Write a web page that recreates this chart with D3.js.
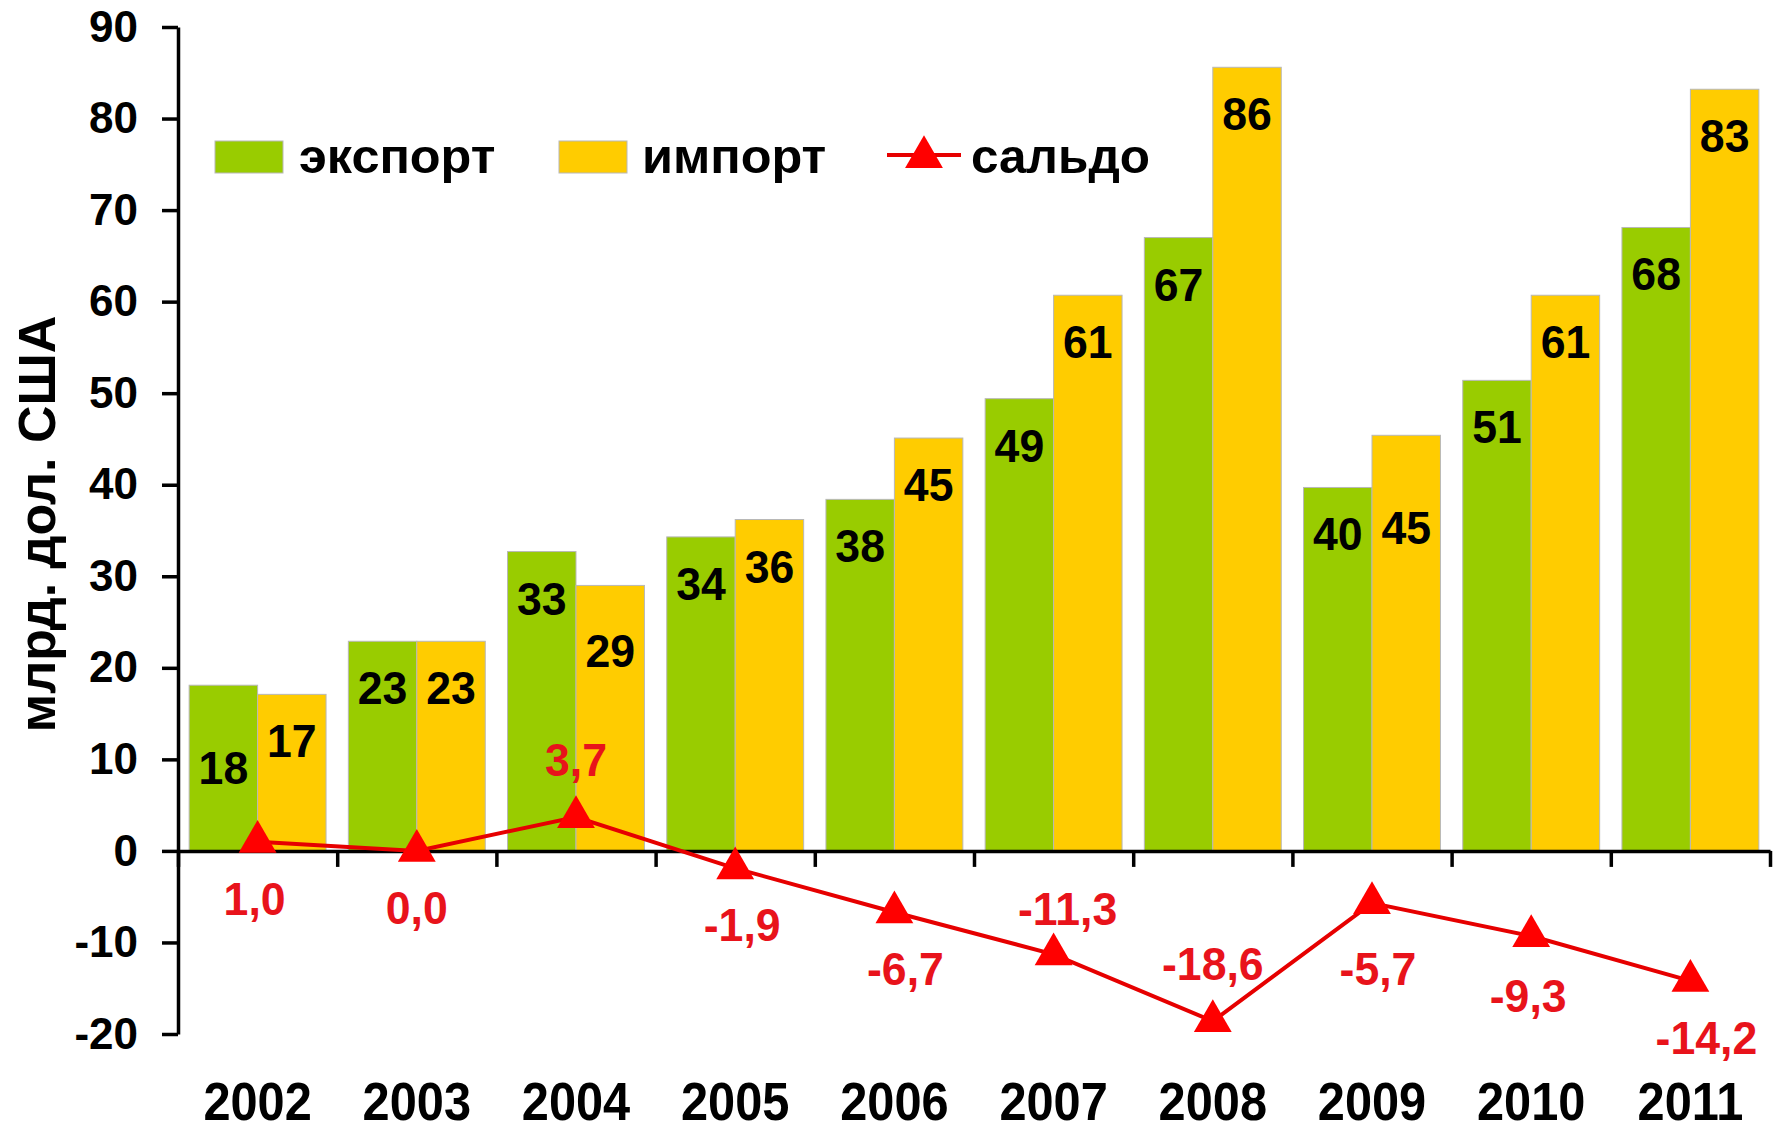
<!DOCTYPE html>
<html>
<head>
<meta charset="utf-8">
<script src="https://cdn.jsdelivr.net/npm/d3@7"></script>
<style>
  body { margin: 0; background: #fff; }
  svg { display: block; font-family: "Liberation Sans", Arial, sans-serif; font-weight: bold; }
</style>
</head>
<body>
<svg id="chart" width="1777" height="1133"></svg>
<script>
// data (bn USD)
var years = ['2002', '2003', '2004', '2005', '2006', '2007', '2008', '2009', '2010', '2011'];
var exportVals = [18.1, 22.9, 32.7, 34.3, 38.4, 49.4, 67.0, 39.7, 51.4, 68.1];
var importVals = [17.1, 22.9, 29.0, 36.2, 45.1, 60.7, 85.6, 45.4, 60.7, 83.2];
var saldoVals = [1.0, 0.0, 3.7, -1.9, -6.7, -11.3, -18.6, -5.7, -9.3, -14.2];
var yTicks = [-20, -10, 0, 10, 20, 30, 40, 50, 60, 70, 80, 90];
var seriesNames = ['экспорт', 'импорт', 'сальдо'];

var svg = d3.select('#chart');
var margin = {left: 178, right: 7, top: 27, bottom: 99};
var width = 1777 - margin.left - margin.right;
var height = 1133 - margin.top - margin.bottom;

var green = '#99cc00', yellow = '#ffcc00', red = '#ff0000', labelRed = '#e8131b';

var x0 = d3.scaleBand().domain(years).range([margin.left, margin.left + width])
  .paddingInner(0.14).paddingOuter(0.07);
var x1 = d3.scaleBand().domain(['export', 'import']).range([0, x0.bandwidth()]);
var y = d3.scaleLinear().domain([-20, 90]).range([margin.top + height, margin.top]);

function txt(g, x, yy, str, fs, sx, anchor, fill) {
  return g.append('text')
    .attr('transform', 'translate(' + x + ',' + yy + ') scale(' + sx + ',1)')
    .attr('text-anchor', anchor || 'middle')
    .attr('font-size', fs)
    .attr('fill', fill || '#000')
    .text(str);
}

// bars
var rows = years.map(function(yr, i) {
  return {year: yr, values: [{key: 'export', v: exportVals[i]}, {key: 'import', v: importVals[i]}]};
});

var groups = svg.append('g').selectAll('g').data(rows).enter().append('g')
  .attr('transform', function(d) { return 'translate(' + x0(d.year) + ',0)'; });

groups.selectAll('rect').data(function(d) { return d.values; }).enter().append('rect')
  .attr('x', function(d) { return x1(d.key); })
  .attr('y', function(d) { return y(d.v); })
  .attr('width', x1.bandwidth())
  .attr('height', function(d) { return y(0) - y(d.v); })
  .attr('fill', function(d) { return d.key === 'export' ? green : yellow; })
  .attr('stroke', '#b8b8b8')
  .attr('stroke-width', 1);

// bar value labels (a few were pushed down by hand in the original)
var nudge = {'export-2002': 36, 'import-2004': 19, 'import-2009': 46};
var barLabels = svg.append('g');
rows.forEach(function(r) {
  r.values.forEach(function(d) {
    var cx = x0(r.year) + x1(d.key) + x1.bandwidth() / 2;
    var cy = y(d.v) + 47 + (nudge[d.key + '-' + r.year] || 0);
    txt(barLabels, cx, cy + 16, Math.round(d.v), 46, 0.97);
  });
});

// axes
var yAxis = svg.append('g')
  .attr('transform', 'translate(' + margin.left + ',0)')
  .call(d3.axisLeft(y).tickValues(yTicks).tickSize(16).tickSizeOuter(0).tickPadding(24)
    .tickFormat(function(d) { return String(d); }));
yAxis.selectAll('text').attr('font-size', 44).attr('font-family', '"Liberation Sans", Arial, sans-serif')
  .attr('font-weight', 'bold').attr('fill', '#000');

var xb = d3.scaleLinear().domain([0, years.length]).range([margin.left, margin.left + width]);
svg.append('g')
  .attr('transform', 'translate(0,' + y(0) + ')')
  .call(d3.axisBottom(xb).ticks(years.length).tickSize(16).tickSizeOuter(0).tickFormat(''));

svg.selectAll('.domain, .tick line').attr('stroke', '#000').attr('stroke-width', 3.5);

// year labels
var yearG = svg.append('g');
years.forEach(function(yr) {
  txt(yearG, x0(yr) + x0.bandwidth() / 2, 1120, yr, 53, 0.92);
});

// saldo line
var cx = function(i) { return x0(years[i]) + x0.bandwidth() / 2; };
svg.append('path')
  .datum(saldoVals)
  .attr('fill', 'none')
  .attr('stroke', '#e60000')
  .attr('stroke-width', 4)
  .attr('d', d3.line().x(function(d, i) { return cx(i); }).y(function(d) { return y(d); }));

var tri = d3.symbol().type(d3.symbolTriangle).size(620);
svg.append('g').selectAll('path').data(saldoVals).enter().append('path')
  .attr('d', tri)
  .attr('fill', red)
  .attr('transform', function(d, i) { return 'translate(' + cx(i) + ',' + y(d) + ')'; });

// saldo labels: above / below the marker, small horizontal shifts
var saldoPlace = [[-3, 1], [0, 1], [0, -1], [7, 1], [11, 1], [14, -0.8], [0, -1], [6, 1.15], [-3, 1.05], [16, 1]];
var saldoG = svg.append('g');
saldoVals.forEach(function(v, i) {
  var p = saldoPlace[i];
  txt(saldoG, cx(i) + p[0], y(v) + 57 * p[1] + 16, v.toFixed(1).replace('.', ','), 46, 0.97, 'middle', labelRed);
});

// legend
var leg = svg.append('g');
leg.append('rect').attr('x', 215).attr('y', 141).attr('width', 68).attr('height', 32)
  .attr('fill', green).attr('stroke', '#b8b8b8');
txt(leg, 299, 173, seriesNames[0], 48, 1.05, 'start');
leg.append('rect').attr('x', 559).attr('y', 141).attr('width', 68).attr('height', 32)
  .attr('fill', yellow).attr('stroke', '#b8b8b8');
txt(leg, 642, 173, seriesNames[1], 48, 1.05, 'start');
leg.append('line').attr('x1', 887).attr('x2', 961).attr('y1', 155).attr('y2', 155)
  .attr('stroke', '#e60000').attr('stroke-width', 4);
leg.append('path').attr('d', tri).attr('fill', red).attr('transform', 'translate(924,157)');
txt(leg, 971, 173, seriesNames[2], 48, 1.03, 'start');

// y axis title
svg.append('text')
  .attr('transform', 'translate(55,524) rotate(-90)')
  .attr('text-anchor', 'middle')
  .attr('font-size', 52)
  .text('млрд. дол. США');
</script>
</body>
</html>
